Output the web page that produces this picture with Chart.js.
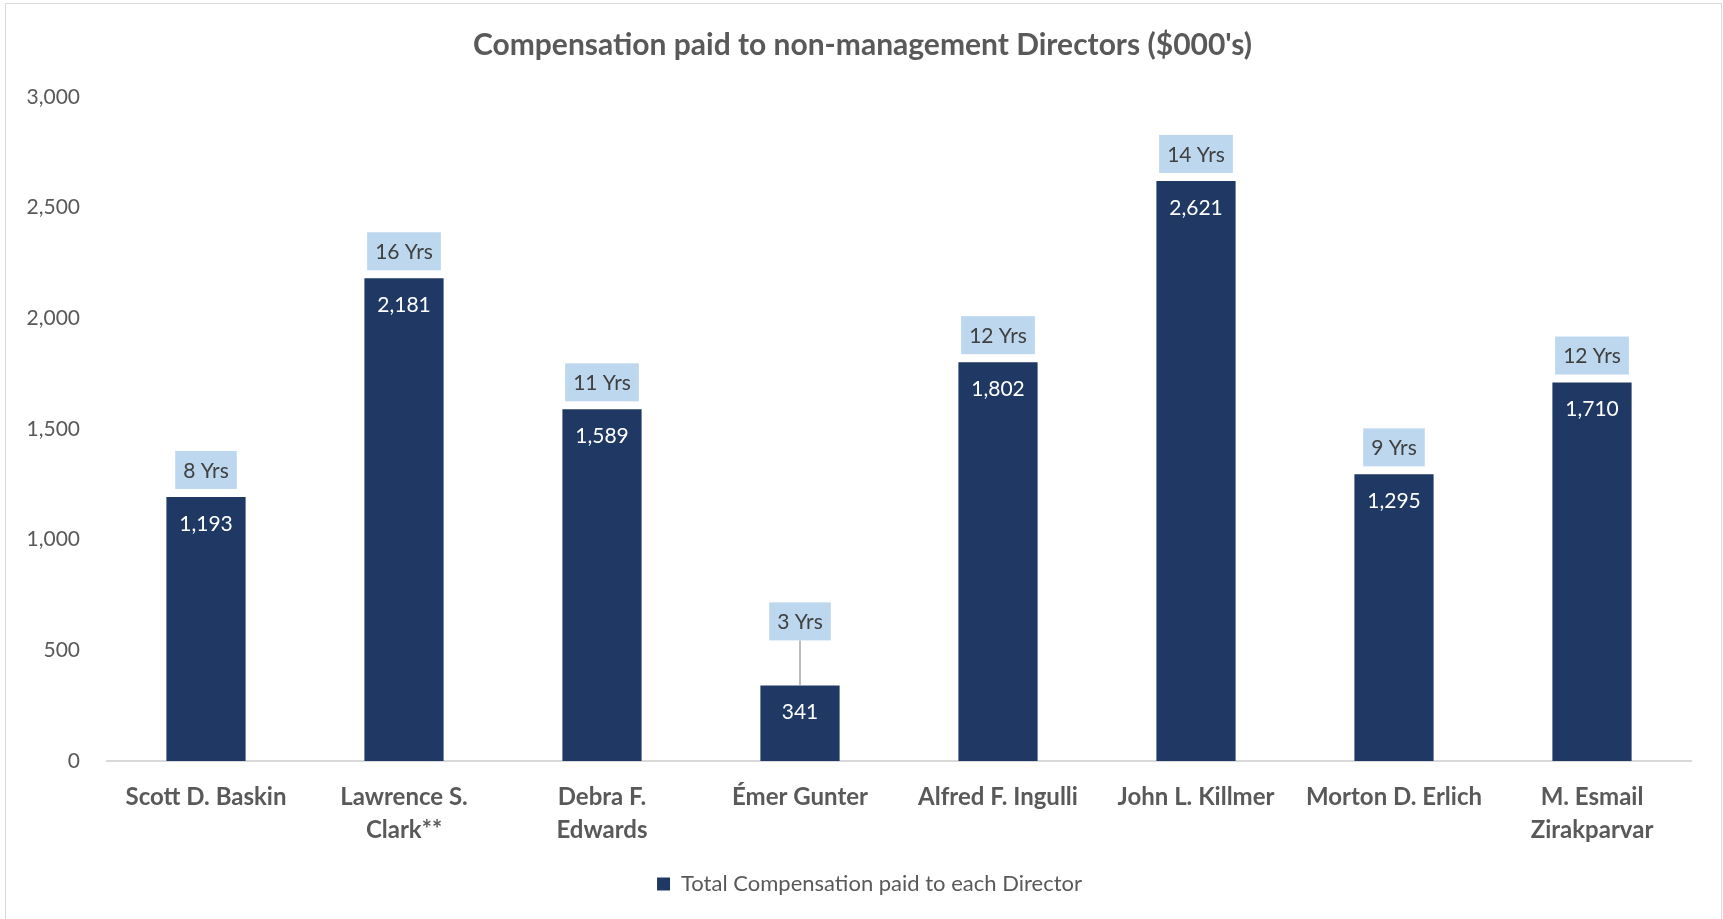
<!DOCTYPE html>
<html>
<head>
<meta charset="utf-8">
<script src="https://cdn.jsdelivr.net/npm/chart.js@4"></script>
<style>
  body { margin: 0; background: #fff; }
  #wrap { position: relative; width: 1723px; height: 919px; overflow: hidden; }
  #frame { position: absolute; left: 5px; top: 3px; width: 1715px; height: 940px; border: 1px solid #d9d9d9; }
  #myChart { position: absolute; left: 0; top: 0; }
</style>
</head>
<body>
<div id="wrap">
  <div id="frame"></div>
  <canvas id="myChart" width="1723" height="919"></canvas>
</div>
<script>
// chart data
const directors = [
  'Scott D. Baskin',
  ['Lawrence S.', 'Clark**'],
  ['Debra F.', 'Edwards'],
  'Émer Gunter',
  'Alfred F. Ingulli',
  'John L. Killmer',
  'Morton D. Erlich',
  ['M. Esmail', 'Zirakparvar'],
];
const compensation = [1193, 2181, 1589, 341, 1802, 2621, 1295, 1710];
const tenureYears = [8, 16, 11, 3, 12, 14, 9, 12];
const yTicks = [0, 500, 1000, 1500, 2000, 2500, 3000];

const seriesLabel = 'Total Compensation paid to each Director';
const chartTitle = "Compensation paid to non-management Directors ($000's)";

const FONT = 'Lato, "Open Sans", sans-serif';
const navy = '#1f3864';
const grey = '#595959';

// draws value inside each bar and the "N Yrs" box above it
const barLabels = {
  id: 'barLabels',
  afterDatasetsDraw(chart) {
    const ctx = chart.ctx;
    const meta = chart.getDatasetMeta(0);
    const yScale = chart.scales.y;
    const lowestBoxBottom = yScale.getPixelForValue(545);
    ctx.save();
    meta.data.forEach((bar, i) => {
      const x = bar.x;
      const top = bar.y;
      // value
      ctx.font = '21px ' + FONT;
      ctx.fillStyle = '#ffffff';
      ctx.textAlign = 'center';
      ctx.textBaseline = 'middle';
      ctx.fillText(compensation[i].toLocaleString('en-US'), x, top + 27);

      // tenure box
      const txt = tenureYears[i] + ' Yrs';
      const w = ctx.measureText(txt).width + 16;
      const h = 38;
      let bottom = top - 8;
      if (bottom > lowestBoxBottom) {
        bottom = lowestBoxBottom;
        ctx.strokeStyle = '#a6a6a6';
        ctx.lineWidth = 1.5;
        ctx.beginPath();
        ctx.moveTo(x, bottom);
        ctx.lineTo(x, top);
        ctx.stroke();
      }
      ctx.fillStyle = '#bdd7ee';
      ctx.fillRect(x - w / 2, bottom - h, w, h);
      ctx.fillStyle = '#404040';
      ctx.fillText(txt, x, bottom - h / 2 + 1);
    });
    ctx.restore();
  }
};

// nudge title and legend so they are centred like the original
const centreBoxes = {
  id: 'centreBoxes',
  afterLayout(chart) {
    chart.titleBlock.left += 17;
    chart.titleBlock.right += 17;
    chart.legend.left += 24;
    chart.legend.right += 24;
  }
};

const data = {
  labels: directors,
  datasets: [{
    label: seriesLabel,
    data: compensation,
    backgroundColor: navy,
    barPercentage: 0.4,
    categoryPercentage: 1.0,
  }]
};

const config = {
  type: 'bar',
  data: data,
  plugins: [barLabels, centreBoxes],
  options: {
    responsive: false,
    animation: false,
    layout: { padding: { top: 0, right: 32, bottom: 14, left: 0 } },
    plugins: {
      title: {
        display: true,
        text: chartTitle,
        color: grey,
        font: { family: FONT, size: 30, weight: 'bold', lineHeight: 1.2 },
        padding: { top: 27, bottom: 34 },
      },
      legend: {
        position: 'bottom',
        labels: {
          color: grey,
          font: { family: FONT, size: 22 },
          boxWidth: 13,
          boxHeight: 13,
          padding: 10,
        }
      },
      tooltip: { enabled: false },
    },
    scales: {
      x: {
        grid: { display: false },
        border: { display: true, color: '#d9d9d9', width: 2 },
        ticks: {
          color: grey,
          padding: 12,
          maxRotation: 0,
          autoSkip: false,
          font: { family: FONT, size: 24, weight: 'bold', lineHeight: '33px' },
        },
        afterFit: (scale) => { scale.height = 102; },
      },
      y: {
        min: 0,
        max: 3000,
        afterBuildTicks: (scale) => { scale.ticks = yTicks.map(v => ({ value: v })); },
        grid: { display: false },
        border: { display: false },
        ticks: {
          color: grey,
          padding: 19,
          font: { family: FONT, size: 21 },
          callback: (v) => v.toLocaleString('en-US'),
        },
        afterFit: (scale) => { scale.width = 107; },
      }
    }
  }
};

const myChart = new Chart(document.getElementById('myChart'), config);
</script>
</body>
</html>
